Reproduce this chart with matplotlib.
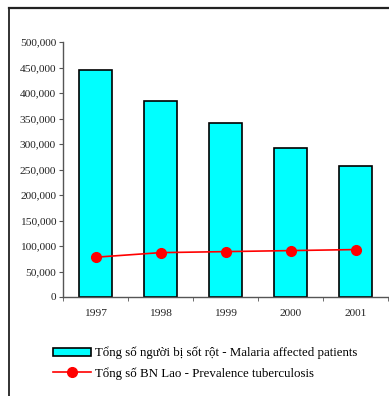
import numpy as np
import matplotlib
matplotlib.use("Agg")
from matplotlib import pyplot as plt
from matplotlib.lines import Line2D
from matplotlib.ticker import FuncFormatter, FixedLocator

plt.rcParams["font.family"] = ["Liberation Serif", "DejaVu Serif"]

years = ["1997", "1998", "1999", "2000", "2001"]
malaria = [445000, 384000, 341000, 292000, 257000]
tuberculosis = [78000, 87000, 89000, 91000, 93000]

W, H = 389, 396
fig = plt.figure(figsize=(W / 100, H / 100), dpi=100)

# outer frame (left and top edges)
fig.add_artist(Line2D([8.5 / W, 8.5 / W], [0, 1 - 8 / H], color="#222222", lw=1.3))
fig.add_artist(Line2D([8.5 / W, 1], [1 - 8 / H, 1 - 8 / H], color="#222222", lw=1.6))

ax = fig.add_axes([63 / W, 1 - 297 / H, (388 - 63) / W, (297 - 42) / H])

x = np.arange(len(years))
bars = ax.bar(x, malaria, width=0.52, color="#00FFFF", edgecolor="black", linewidth=1.2)
line, = ax.plot(x, tuberculosis, color="red", marker="o", markersize=7, linewidth=1.2)

ax.set_xlim(-0.5, 4.5)
ax.set_ylim(0, 500000)
ax.set_yticks(np.arange(0, 500001, 50000))
ax.yaxis.set_major_formatter(FuncFormatter(lambda v, p: "{:,.0f}".format(v)))
ax.set_xticks(x)
ax.set_xticklabels(years)
ax.xaxis.set_minor_locator(FixedLocator(np.arange(-0.5, 4.6, 1.0)))
ax.tick_params(axis="x", which="major", length=0, labelsize=8.2, pad=9, colors="#222222")
ax.tick_params(axis="x", which="minor", length=3, direction="out", color="#555555")
ax.tick_params(axis="y", length=3, direction="out", labelsize=8.2, pad=2, color="#555555", colors="#222222")
ax.spines["top"].set_visible(False)
ax.spines["right"].set_visible(False)
ax.spines["left"].set_color("#555555")
ax.spines["bottom"].set_color("#555555")
ax.spines["left"].set_linewidth(1.0)
ax.spines["bottom"].set_linewidth(1.0)

fig.legend([bars, line],
           ["Tổng số người bị sốt rột - Malaria affected patients",
            "Tổng số BN Lao - Prevalence tuberculosis"],
           loc="upper left", bbox_to_anchor=(41 / W, 1 - 335 / H),
           frameon=False, fontsize=9.3, handlelength=3.0, handleheight=0.6,
           handletextpad=0.25, labelspacing=0.6)

fig.savefig("out.png", dpi=100)
